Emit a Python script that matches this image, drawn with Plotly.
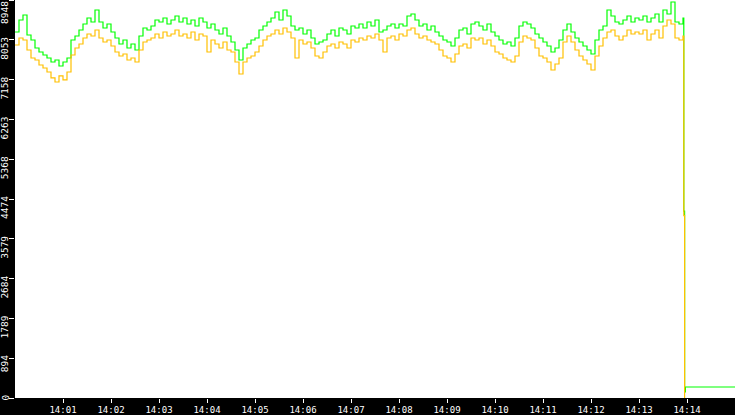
import pandas as pd
import plotly.graph_objects as go

# 5 second samples from 14:00:00 to 14:13:55
start = "2024-01-02 14:00:00"
times = pd.date_range(start, periods=168, freq="5s")

green_vals = [
    8229, 8498, 8611, 8161, 8049, 7869, 7779, 7712, 7644, 7554,
    7599, 7464, 7554, 7644, 8049, 8139, 8274, 8408, 8543, 8453,
    8723, 8453, 8319, 8408, 8229, 8094, 7959, 8049, 7869, 7959,
    7824, 8139, 8319, 8274, 8364, 8498, 8453, 8543, 8408, 8498,
    8588, 8453, 8543, 8408, 8498, 8364, 8543, 8453, 8319, 8408,
    8274, 8184, 8319, 8139, 8004, 7824, 7599, 7869, 7959, 8049,
    8094, 8274, 8364, 8453, 8543, 8678, 8498, 8723, 8588, 8364,
    8274, 8319, 8184, 8274, 8094, 7959, 8004, 8049, 8184, 8274,
    8139, 8319, 8274, 8184, 8364, 8319, 8408, 8319, 8453, 8364,
    8498, 8229, 8274, 8364, 8408, 8319, 8408, 8364, 8588, 8633,
    8498, 8364, 8408, 8274, 8364, 8229, 8139, 8049, 8004, 7914,
    8094, 8274, 8319, 8184, 8408, 8453, 8364, 8274, 8408, 8229,
    8139, 8049, 7959, 8004, 7914, 8094, 8364, 8453, 8408, 8319,
    8184, 8094, 8004, 7914, 7779, 7869, 8049, 8274, 8408, 8229,
    8094, 8004, 7914, 7824, 7734, 8049, 8274, 8364, 8723, 8588,
    8453, 8408, 8498, 8588, 8453, 8543, 8498, 8588, 8453, 8543,
    8633, 8453, 8723, 8633, 8903, 8453, 8408, 8543,
]

orange_vals = [
    7936, 8094, 8049, 7824, 7644, 7599, 7487, 7419, 7329, 7195,
    7105, 7240, 7150, 7329, 7712, 7869, 7959, 8094, 8184, 8139,
    8274, 8094, 8004, 8049, 7914, 7779, 7689, 7734, 7599, 7644,
    7554, 7824, 8004, 8049, 8094, 8184, 8094, 8229, 8139, 8184,
    8274, 8139, 8184, 8094, 8229, 8049, 8184, 8139, 7779, 8049,
    7959, 7869, 8004, 7824, 7779, 7554, 7284, 7554, 7644, 7689,
    7779, 7914, 8049, 8139, 8184, 8274, 8184, 8319, 8229, 8094,
    7644, 8049, 7959, 8004, 7869, 7689, 7644, 7779, 7914, 7959,
    7869, 8004, 7959, 7869, 8049, 8004, 8094, 8049, 8139, 8094,
    8184, 8049, 7779, 8094, 8139, 8049, 8184, 8139, 8274, 8319,
    8184, 8094, 8139, 8049, 8004, 7959, 7824, 7689, 7644, 7554,
    7734, 7914, 7959, 7869, 8094, 8049, 8094, 7959, 8049, 7914,
    7779, 7734, 7644, 7599, 7554, 7689, 8004, 8139, 8094, 8049,
    7869, 7689, 7644, 7554, 7374, 7509, 7644, 8004, 8139, 8004,
    7824, 7689, 7599, 7509, 7374, 7689, 7914, 8094, 8229, 8274,
    8139, 8049, 8139, 8274, 8184, 8229, 8184, 8274, 8049, 8184,
    8274, 8094, 8364, 8498, 8408, 8094, 8049, 8139,
]

# the crash at the end of the session
green_tail_times = ["2024-01-02 14:13:56", "2024-01-02 14:13:57", "2024-01-02 14:13:58", "2024-01-02 14:15:00"]
green_tail_vals = [4200, 135, 247, 247]
orange_tail_times = ["2024-01-02 14:13:56", "2024-01-02 14:13:57"]
orange_tail_vals = [4100, 0]

y_ticks = [0, 894, 1789, 2684, 3579, 4474, 5368, 6263, 7158, 8053, 8948]
y_labels = ["0", "894", "1789", "2684", "3579", "4474", "5368", "6263", "7158", "8053", "8948"]
x_ticks = pd.date_range("2024-01-02 14:01:00", periods=14, freq="1min")

green_x = list(times) + list(pd.to_datetime(green_tail_times))
green_y = green_vals + green_tail_vals
orange_x = list(times) + list(pd.to_datetime(orange_tail_times))
orange_y = orange_vals + orange_tail_vals

fig = go.Figure()
fig.add_trace(go.Scatter(x=green_x, y=green_y, mode="lines", line=dict(color="#00ff00", width=1.2, shape="hv"),
                         showlegend=False))
fig.add_trace(go.Scatter(x=orange_x, y=orange_y, mode="lines", line=dict(color="#ffc000", width=1.2, shape="hv"),
                         showlegend=False))

fig.update_layout(
    width=735, height=415,
    margin=dict(l=15, r=0, t=0, b=17, pad=0, autoexpand=False),
    paper_bgcolor="black",
    plot_bgcolor="white",
    font=dict(family="DejaVu Sans Mono", size=10, color="white"),
)
fig.update_xaxes(
    type="date",
    range=["2024-01-02 14:00:00", "2024-01-02 14:15:00"],
    tickvals=x_ticks, tickformat="%H:%M",
    ticks="outside", ticklen=4, tickcolor="white", tickwidth=1, ticklabelstandoff=-1,
    tickfont=dict(family="DejaVu Sans Mono", size=9, color="white"),
    showgrid=False, zeroline=False, showline=False,
)
fig.update_yaxes(
    range=[0, 8948],
    tickvals=y_ticks, showticklabels=False,
    ticks="outside", ticklen=5, tickcolor="white", tickwidth=1,
    showgrid=False, zeroline=False, showline=False,
)

# rotated y labels hanging just below their tick
for v, t in zip(y_ticks, y_labels):
    shift = 0 if v == y_ticks[-1] else 4
    fig.add_annotation(x=0, xref="paper", y=v, yref="y", text=t, textangle=-90, showarrow=False,
                       xanchor="right", yanchor="top", xshift=-4, yshift=shift, borderpad=0,
                       font=dict(family="DejaVu Sans Mono", size=9.5, color="white"))

# page has a default body margin, drop it so the chart fills the window
fig.write_html("out.html", config={"displayModeBar": False},
               post_script="document.body.style.margin='0';")
